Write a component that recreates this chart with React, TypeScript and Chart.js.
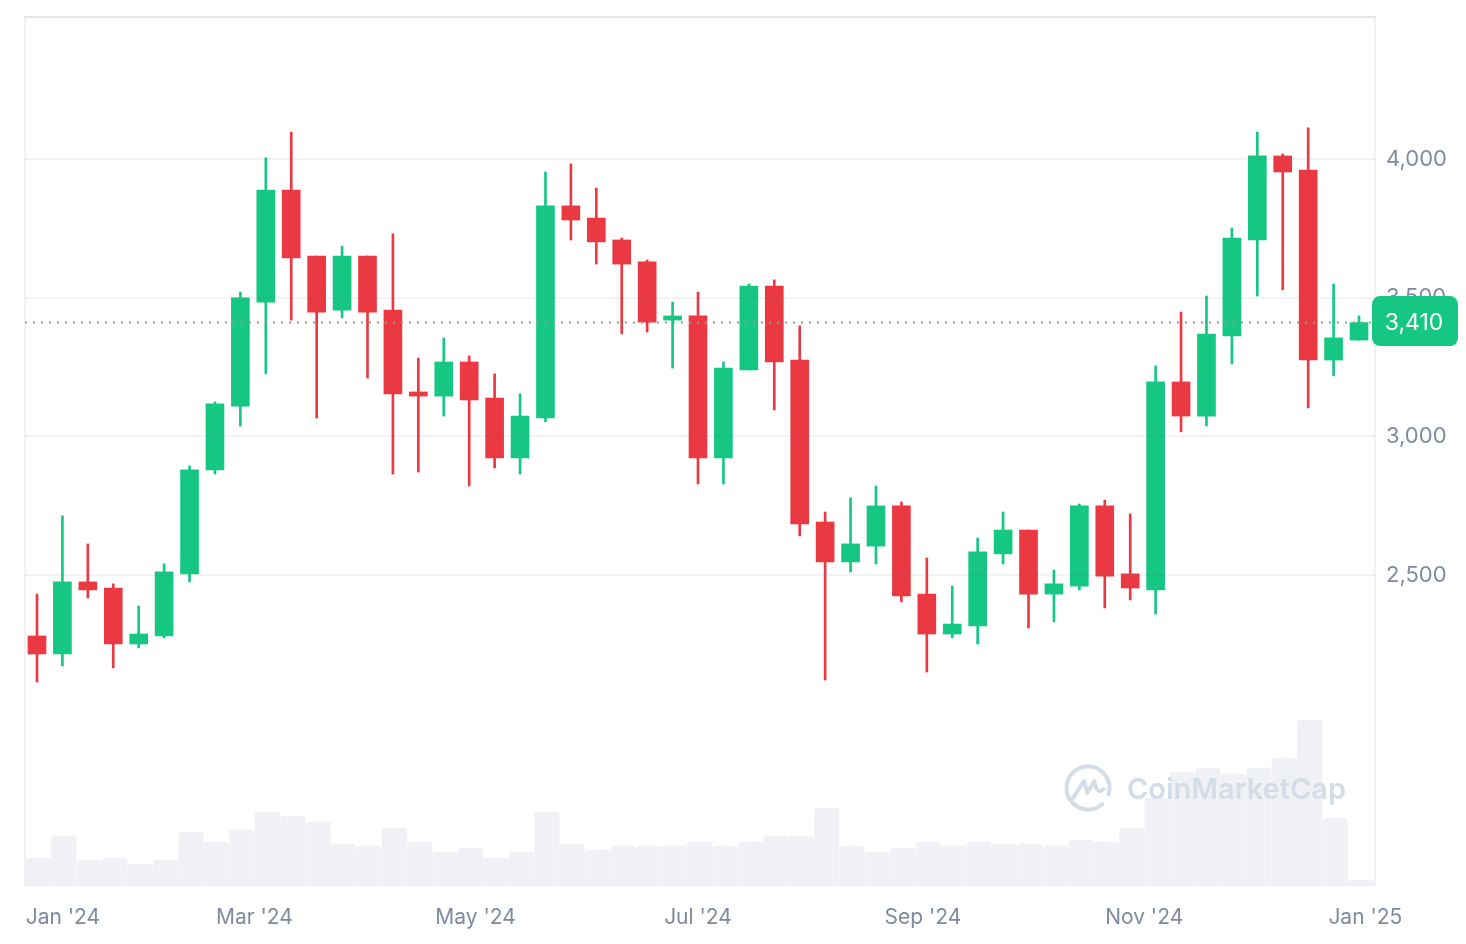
import React, { useRef, useEffect } from 'react';
import { Chart, registerables } from 'chart.js';

Chart.register(...registerables);

// weekly ETH candles
const opens = [2280, 2215, 2475, 2453, 2251, 2280, 2504, 2879, 3109, 3484, 3888, 3650, 3455, 3650, 3455, 3160, 3145, 3268, 3138, 2922, 3066, 3831, 3787, 3708, 3629, 3419, 3434, 2922, 3239, 3542, 3275, 2691, 2547, 2604, 2749, 2431, 2287, 2316, 2576, 2662, 2431, 2460, 2749, 2504, 2446, 3196, 3073, 3362, 3708, 4011, 3960, 3275, 3347];
const closes = [2215, 2475, 2446, 2251, 2287, 2511, 2879, 3117, 3499, 3888, 3643, 3448, 3650, 3448, 3153, 3145, 3268, 3131, 2922, 3073, 3831, 3780, 3701, 3621, 3412, 3434, 2922, 3246, 3542, 3268, 2684, 2547, 2612, 2749, 2424, 2287, 2323, 2583, 2662, 2431, 2468, 2749, 2496, 2453, 3196, 3073, 3369, 3715, 4011, 3953, 3275, 3355, 3410];
const highs = [2431, 2713, 2612, 2468, 2388, 2540, 2893, 3124, 3520, 4004, 4097, 3650, 3686, 3650, 3730, 3282, 3355, 3290, 3225, 3153, 3953, 3982, 3895, 3715, 3636, 3484, 3520, 3268, 3549, 3564, 3398, 2727, 2778, 2821, 2763, 2561, 2460, 2633, 2727, 2662, 2518, 2756, 2770, 2720, 3254, 3448, 3506, 3751, 4097, 4018, 4112, 3549, 3434];
const lows = [2114, 2172, 2417, 2165, 2237, 2273, 2475, 2864, 3037, 3225, 3419, 3066, 3427, 3210, 2864, 2871, 3073, 2821, 2886, 2864, 3052, 3708, 3621, 3369, 3376, 3246, 2828, 2828, 3239, 3095, 2641, 2121, 2511, 2540, 2403, 2150, 2273, 2251, 2540, 2309, 2331, 2446, 2381, 2410, 2359, 3016, 3037, 3261, 3506, 3528, 3102, 3218, 3347];
const volumes = [27, 49, 25, 27, 21, 25, 53, 43, 55, 73, 69, 63, 41, 39, 57, 43, 33, 37, 27, 33, 73, 41, 35, 39, 39, 39, 43, 39, 43, 49, 49, 77, 39, 33, 37, 43, 39, 43, 41, 41, 39, 45, 43, 57, 87, 113, 117, 111, 117, 127, 165, 67, 5];

// month labels and where they sit, in weeks from the first candle
const monthLabels = ["Jan '24", "Mar '24", "May '24", "Jul '24", "Sep '24", "Nov '24", "Jan '25"];
const monthWeeks = [1.02, 8.55, 17.25, 26, 34.85, 43.55, 52.25];
const priceTicks = [2500, 3000, 3500, 4000];
const lastPrice = 3410;

const GREEN = '#16C784';
const RED = '#EA3943';
const X_MIN = -0.472;
const X_MAX = 52.629;

const chartExtras = {
  id: 'chartExtras',
  beforeDatasetsDraw(chart: Chart) {
    const { ctx, chartArea: a } = chart;
    ctx.save();
    ctx.strokeStyle = '#F1F1F3';
    ctx.lineWidth = 2;
    ctx.strokeRect(a.left, a.top, a.right - a.left, a.bottom - a.top);
    ctx.strokeStyle = '#E6E6E8';
    ctx.beginPath();
    ctx.moveTo(a.left - 1, a.top);
    ctx.lineTo(a.right + 1, a.top);
    ctx.stroke();
    ctx.restore();
  },
  afterDraw(chart: Chart) {
    const { ctx } = chart;
    ctx.save();

    // CoinMarketCap watermark
    ctx.strokeStyle = '#D4DCE8';
    ctx.lineWidth = 4;
    ctx.lineCap = 'round';
    ctx.lineJoin = 'round';
    ctx.beginPath();
    ctx.arc(1088, 788, 21.5, 0.85, 0.3 + Math.PI * 2);
    ctx.stroke();
    ctx.beginPath();
    ctx.moveTo(1073, 798);
    ctx.lineTo(1084, 781);
    ctx.lineTo(1087.3, 793);
    ctx.lineTo(1094.3, 781);
    ctx.quadraticCurveTo(1097, 796, 1103.5, 789);
    ctx.stroke();
    ctx.fillStyle = '#D4DCE8';
    ctx.font = '600 29px Inter';
    ctx.textAlign = 'left';
    ctx.textBaseline = 'middle';
    ctx.fillText('CoinMarketCap', 1127, 790);

    // current price badge
    const y = chart.scales.y.getPixelForValue(lastPrice);
    ctx.fillStyle = GREEN;
    ctx.beginPath();
    ctx.roundRect(1372, y - 26.5, 86, 50, 8);
    ctx.fill();
    ctx.fillStyle = '#FFFFFF';
    ctx.font = '23px Inter';
    ctx.textAlign = 'center';
    ctx.fillText(lastPrice.toLocaleString('en-US'), 1414, y);
    ctx.restore();
  },
};

const App: React.FC = () => {
  const chartRef = useRef<HTMLCanvasElement>(null);

  useEffect(() => {
    if (!chartRef.current) return;
    document.body.style.margin = '0';

    const candleColors = opens.map((o, i) => (closes[i] >= o ? GREEN : RED));

    const chart = new Chart(chartRef.current, {
      type: 'bar',
      data: {
        datasets: [
          {
            type: 'line',
            data: [
              { x: X_MIN, y: lastPrice },
              { x: X_MAX, y: lastPrice },
            ],
            borderColor: '#999999',
            borderWidth: 2,
            borderDash: [2, 6],
            pointRadius: 0,
            order: 0,
          },
          {
            data: opens.map((o, i) => ({ x: i, y: [o, closes[i]] })),
            backgroundColor: candleColors,
            barThickness: 18,
            grouped: false,
            order: 1,
          },
          {
            data: lows.map((l, i) => ({ x: i, y: [l, highs[i]] })),
            backgroundColor: candleColors,
            barThickness: 2,
            grouped: false,
            order: 2,
          },
          {
            data: volumes.map((v, i) => ({ x: i + 0.06, y: v })),
            yAxisID: 'y2',
            backgroundColor: '#F0F1F5',
            barThickness: 24.6,
            borderRadius: { topLeft: 4, topRight: 4, bottomLeft: 0, bottomRight: 0 },
            borderSkipped: false,
            grouped: false,
            order: 3,
          },
        ],
      } as any,
      plugins: [chartExtras],
      options: {
        responsive: false,
        animation: false,
        layout: { padding: { left: 25, top: 17, right: 0, bottom: 0 } },
        plugins: { legend: { display: false }, tooltip: { enabled: false } },
        scales: {
          x: {
            type: 'linear',
            offset: false,
            min: X_MIN,
            max: X_MAX,
            afterBuildTicks: (scale: any) => {
              scale.ticks = monthWeeks.map((value) => ({ value }));
            },
            afterFit: (scale: any) => {
              scale.height = 59;
            },
            grid: { display: false, offset: false },
            border: { display: false },
            ticks: {
              autoSkip: false,
              maxRotation: 0,
              padding: 12,
              color: '#808A9D',
              font: { family: 'Inter', size: 21 },
              callback: (_v: any, i: number) => monthLabels[i],
            },
          },
          y: {
            position: 'right',
            min: 1382,
            max: 4512,
            afterBuildTicks: (scale: any) => {
              scale.ticks = priceTicks.map((value) => ({ value }));
            },
            afterFit: (scale: any) => {
              scale.width = 91;
              // the label overhang would otherwise push the plot top down
              scale.paddingTop = 0;
              scale.paddingBottom = 0;
            },
            grid: { color: 'rgba(88, 102, 126, 0.08)', lineWidth: 2, drawTicks: false, z: 1 },
            border: { display: false },
            ticks: {
              padding: 11,
              color: '#808A9D',
              font: { family: 'Inter', size: 22 },
              callback: (v: any) => Number(v).toLocaleString('en-US'),
            },
          },
          y2: { display: false, min: 0, max: 868 },
        },
      },
    } as any);

    return () => {
      chart.destroy();
    };
  }, []);

  return (
    <div style={{ width: 1466, height: 944 }}>
      <canvas ref={chartRef} width={1466} height={944} style={{ display: 'block' }} />
    </div>
  );
};

export default App;
